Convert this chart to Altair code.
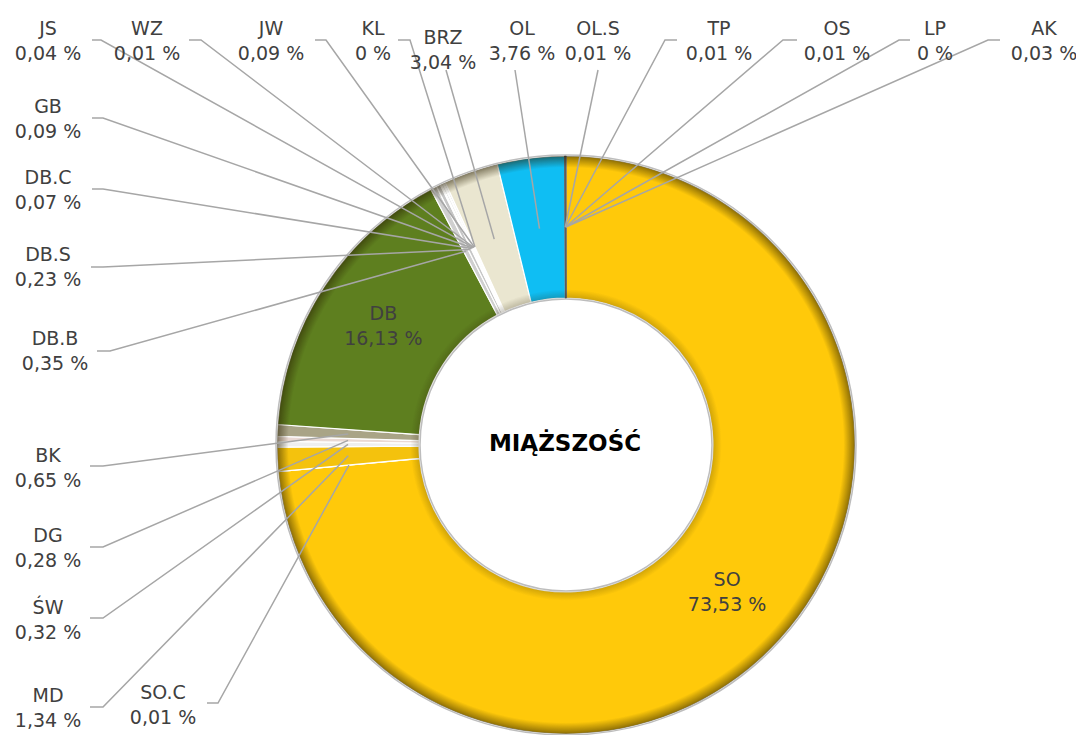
import math
import altair as alt
import pandas as pd

# ---------------- data ----------------
species = ["SO", "SO.C", "MD", "ŚW", "DG", "BK", "DB", "DB.B", "DB.S", "DB.C", "GB",
           "JS", "WZ", "JW", "KL", "BRZ", "OL", "OL.S", "TP", "OS", "LP", "AK"]
shares = [73.53, 0.01, 1.34, 0.32, 0.28, 0.65, 16.13, 0.35, 0.23, 0.07, 0.09,
          0.04, 0.01, 0.09, 0.0, 3.04, 3.76, 0.01, 0.01, 0.01, 0.0, 0.03]
center_title = "MIĄŻSZOŚĆ"

# ---------------- styles ----------------
fill_colors = ["#FFC90A", "#F2F2F2", "#F4C20D", "#EFEFEF", "#EAD9D3", "#A9A486", "#5E7F1F",
               "#CFCFCF", "#C6C6C6", "#D8D8D8", "#CACACA", "#BEBEBE", "#D3D3D3", "#C4C4C4",
               "#CCCCCC", "#EAE6D0", "#0FBEF3", "#5C5C5C", "#5C5C5C", "#5C5C5C", "#5C5C5C",
               "#5C5C5C"]
stroke_colors = ["#FFFFFF"] * 17 + ["#5C5C5C"] * 5
TEXT_COLOR = "#404040"
LEADER_COLOR = "#A6A6A6"
FONT = "DejaVu Sans"
LABEL_SIZE = 19

# ---------------- layout (page pixels) ----------------
MARGIN = 8
W, H = 1068, 727
CX, CY = 566, 445
R_OUT, R_IN = 289, 147
R_MID = (R_OUT + R_IN) / 2
HALF_GAP = 12.5
inside_labels = ["SO", "DB"]
# label block centre (x, y) and leader points before the slice point
label_layout = {
    "JS": (48, 40, [(92, 40), (101, 40)]),
    "WZ": (147, 40, [(189, 40), (201, 40)]),
    "JW": (271, 40, [(315, 40), (326, 40)]),
    "KL": (373, 40, [(398, 40), (410, 40)]),
    "BRZ": (443, 49, [(446, 70)]),
    "OL": (522, 40, [(515, 70)]),
    "OL.S": (598, 40, [(598, 70)]),
    "TP": (719, 40, [(677, 40), (665, 40)]),
    "OS": (837, 40, [(797, 40), (783, 40)]),
    "LP": (935, 40, [(910, 40), (899, 40)]),
    "AK": (1044, 40, [(1000, 40), (988, 40)]),
    "GB": (48, 118, [(92, 118), (103, 118)]),
    "DB.C": (48, 189, [(92, 189), (103, 189)]),
    "DB.S": (48, 266, [(91, 267), (103, 267)]),
    "DB.B": (55, 350, [(97, 351), (110, 351)]),
    "BK": (48, 467, [(90, 466), (103, 466)]),
    "DG": (48, 547, [(90, 547), (103, 547)]),
    "ŚW": (48, 619, [(90, 618), (103, 618)]),
    "MD": (48, 707, [(90, 707), (103, 707)]),
    "SO.C": (163, 704, [(207, 703), (218, 703)]),
}


def fmt(v):
    s = f"{v:.2f}".rstrip("0").rstrip(".")
    return s.replace(".", ",") + " %"


total = sum(shares)
mid_angle = {}
cum = 0.0
for sp, s in zip(species, shares):
    mid_angle[sp] = 2 * math.pi * (cum + s / 2) / total
    cum += s


def slice_point(sp):
    a = mid_angle[sp]
    return CX + R_MID * math.sin(a), CY - R_MID * math.cos(a)


base_df = pd.DataFrame({"species": species, "share": shares, "idx": list(range(len(species)))})

# leader lines
line_rows = []
for sp, (tx, ty, pts) in label_layout.items():
    full = list(pts) + [slice_point(sp)]
    for k, (px, py) in enumerate(full):
        line_rows.append({"species": sp, "k": k, "px": px - MARGIN, "py": py - MARGIN})
line_df = pd.DataFrame(line_rows)

# labels
text_rows = []
for sp, s in zip(species, shares):
    if sp in label_layout:
        tx, ty, _ = label_layout[sp]
    elif sp in inside_labels:
        tx, ty = slice_point(sp)
    else:
        continue
    text_rows.append({"t": sp, "px": tx - MARGIN, "py": ty - HALF_GAP + 1 - MARGIN})
    text_rows.append({"t": fmt(s), "px": tx - MARGIN, "py": ty + HALF_GAP + 1 - MARGIN})
text_df = pd.DataFrame(text_rows)

one = pd.DataFrame({"a": [1]})

xc = alt.value(CX - MARGIN)
yc = alt.value(CY - MARGIN)

arcs = alt.Chart(base_df).mark_arc(outerRadius=R_OUT, innerRadius=R_IN, strokeWidth=1.2).encode(
    theta=alt.Theta("share:Q", stack=True),
    order=alt.Order("idx:Q", sort="ascending"),
    fill=alt.Fill("species:N", scale=alt.Scale(domain=species, range=fill_colors), legend=None),
    stroke=alt.Stroke("species:N", scale=alt.Scale(domain=species, range=stroke_colors), legend=None),
    x=xc, y=yc,
)

rin = R_IN / R_OUT
shade = alt.Chart(one).mark_arc(
    outerRadius=R_OUT, innerRadius=R_IN, theta=0, theta2=2 * math.pi,
    fill=alt.RadialGradient(
        gradient="radial", x1=0.5, y1=0.5, r1=0, x2=0.5, y2=0.5, r2=0.5,
        stops=[
            alt.GradientStop(offset=0, color="rgba(0,0,0,0)"),
            alt.GradientStop(offset=rin, color="rgba(40,30,0,0.22)"),
            alt.GradientStop(offset=rin + 0.03, color="rgba(40,30,0,0)"),
            alt.GradientStop(offset=0.96, color="rgba(40,30,0,0)"),
            alt.GradientStop(offset=0.99, color="rgba(40,30,0,0.4)"),
            alt.GradientStop(offset=1, color="rgba(40,30,0,0.55)"),
        ],
    ),
).encode(x=xc, y=yc)

outline = alt.Chart(one).mark_arc(
    outerRadius=R_OUT + 1, innerRadius=R_IN - 1, theta=0, theta2=2 * math.pi,
    fillOpacity=0, stroke="#BDBDBD", strokeWidth=1.5,
).encode(x=xc, y=yc)

leaders = alt.Chart(line_df).mark_line(color=LEADER_COLOR, strokeWidth=1.5).encode(
    x=alt.X("px:Q", scale=None, axis=None),
    y=alt.Y("py:Q", scale=None, axis=None),
    detail="species:N",
    order="k:Q",
)

labels = alt.Chart(text_df).mark_text(
    font=FONT, fontSize=LABEL_SIZE, color=TEXT_COLOR, align="center", baseline="middle"
).encode(
    x=alt.X("px:Q", scale=None, axis=None),
    y=alt.Y("py:Q", scale=None, axis=None),
    text="t:N",
)

title = alt.Chart(one).mark_text(
    font=FONT, fontSize=23, fontWeight="bold", color="#000000", align="center", baseline="middle"
).encode(x=alt.value(CX - 1 - MARGIN), y=alt.value(CY - 1 - MARGIN), text=alt.value(center_title))

chart = alt.layer(arcs, shade, outline, leaders, labels, title).properties(
    width=W, height=H, autosize=alt.AutoSizeParams(type="none"), padding=0, background="white"
).configure_view(strokeWidth=0)

chart.save("out.html", embed_options={"renderer": "svg", "actions": False})
